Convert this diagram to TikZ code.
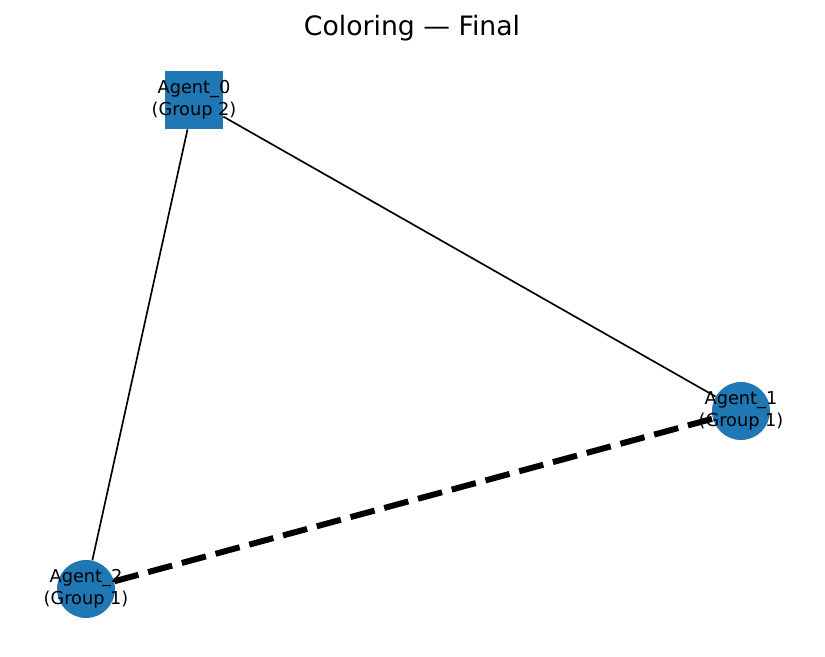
\documentclass[tikz,border=0pt]{standalone}
\usepackage{fontspec}
\setmainfont{DejaVu Sans}
\usetikzlibrary{backgrounds}
\definecolor{agentblue}{HTML}{1F77B4}
\tikzset{
    agent/.style = {fill=agentblue, inner sep=0pt, minimum size=1.16cm},
    agentlabel/.style = {align=center, font=\fontsize{10.1}{12.4}\selectfont, inner sep=0pt},
    tie/.style = {black, line width=0.95pt},
    conflict/.style = {black, line width=3.4pt, dash pattern=on 14.2pt off 5.7pt}
}
\begin{document}
\begin{tikzpicture}[x=0.02cm, y=-0.02cm]
    \useasboundingbox (0,0) rectangle (825,656);
    % agents
    \node[agent, shape=rectangle] (a0) at (194,100) {};
    \node[agent, shape=circle] (a1) at (741,411) {};
    \node[agent, shape=circle] (a2) at (86,589) {};

    % edges behind the agents
    \begin{pgfonlayer}{background}
    \draw[tie] (a0) -- (a1);
    \draw[tie] (a0) -- (a2);
    \draw[conflict] (a2) -- (a1);
    \end{pgfonlayer}

\node[agentlabel] (l0) at (a0) {Agent\_0\\(Group 2)};
\node[agentlabel] (l1) at (a1) {Agent\_1\\(Group 1)};
\node[agentlabel] (l2) at (a2) {Agent\_2\\(Group 1)};

\node[anchor=base, font=\fontsize{15.2}{18}\selectfont] (title) at (412,35) {Coloring — Final};

\end{tikzpicture}
\end{document}
